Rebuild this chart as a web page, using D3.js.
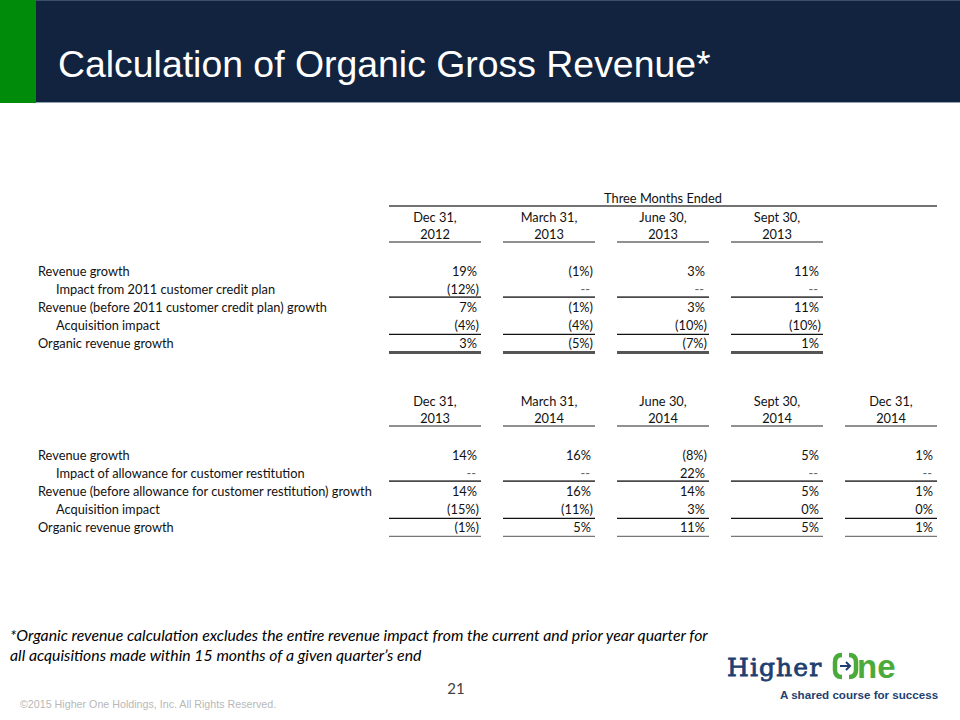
<!DOCTYPE html>
<html><head><meta charset="utf-8">
<script src="https://cdn.jsdelivr.net/npm/d3@7/dist/d3.min.js"></script>
<style>
html,body{margin:0;padding:0;background:#fff;}
svg{display:block;}
</style></head>
<body>
<svg id="c" width="960" height="720"></svg>
<script>
// ---- data ----
const title = "Calculation of Organic Gross Revenue*";
const groupHeader = "Three Months Ended";

const periods1 = [["Dec 31,","2012"],["March 31,","2013"],["June 30,","2013"],["Sept 30,","2013"]];
const rowLabels1 = ["Revenue growth","Impact from 2011 customer credit plan","Revenue (before 2011 customer credit plan) growth","Acquisition impact","Organic revenue growth"];
const rowIndent1 = [false,true,false,true,false];
const revenueGrowth1 = [19,-1,3,11];
const creditPlanImpact1 = [-12,null,null,null];
const revenueBefore1 = [7,-1,3,11];
const acquisitionImpact1 = [-4,-4,-10,-10];
const organicGrowth1 = [3,-5,-7,1];

const periods2 = [["Dec 31,","2013"],["March 31,","2014"],["June 30,","2014"],["Sept 30,","2014"],["Dec 31,","2014"]];
const rowLabels2 = ["Revenue growth","Impact of allowance for customer restitution","Revenue (before allowance for customer restitution) growth","Acquisition impact","Organic revenue growth"];
const rowIndent2 = [false,true,false,true,false];
const revenueGrowth2 = [14,16,-8,5,1];
const restitutionImpact2 = [null,null,22,null,null];
const revenueBefore2 = [14,16,14,5,1];
const acquisitionImpact2 = [-15,-11,3,0,0];
const organicGrowth2 = [-1,5,11,5,1];

const footnote = ["*Organic revenue calculation excludes the entire revenue impact from the current and prior year quarter for",
                  "all acquisitions made within 15 months of a given quarter\u2019s end"];
const pageNumber = "21";
const copyright = "\u00a92015 Higher One Holdings, Inc. All Rights Reserved.";

// ---- drawing ----
const svg = d3.select("#c");
const FONT = "Lato, 'Open Sans', sans-serif";

// header band
svg.append("rect").attr("x",0).attr("y",0).attr("width",960).attr("height",103).attr("fill","#12233f");
svg.append("line").attr("x1",0).attr("x2",960).attr("y1",0.5).attr("y2",0.5).attr("stroke","#3c5068").attr("stroke-width",1);
svg.append("line").attr("x1",0).attr("x2",960).attr("y1",102.5).attr("y2",102.5).attr("stroke","#8fa1b3").attr("stroke-width",1);
svg.append("rect").attr("x",0).attr("y",0).attr("width",36).attr("height",103).attr("fill","#008c0a");
svg.append("text").attr("x",58).attr("y",76.5).attr("fill","#fff")
  .attr("font-family","Arial, 'Liberation Sans', sans-serif").attr("font-size",37.4).text(title);

const colIdx = d3.range(5);
const x = d3.scaleBand().domain(colIdx).range([389,937]).paddingInner(0.193).paddingOuter(0);

function fmt(v){
  if (v === null) return "--";
  return v < 0 ? "(" + Math.abs(v) + "%)" : v + "%";
}

function drawTable(g, periods, labels, indent, rows, y0, lastThick){
  const y = d3.scaleLinear().domain([0,1]).range([y0, y0+18.1]);
  // column headers
  periods.forEach((p,i)=>{
    const cx = x(i) + x.bandwidth()/2;
    g.append("text").attr("x",cx).attr("y",y0-53.5).attr("text-anchor","middle").text(p[0]);
    g.append("text").attr("x",cx).attr("y",y0-36.5).attr("text-anchor","middle").text(p[1]);
    g.append("line").attr("x1",x(i)).attr("x2",x(i)+x.bandwidth()).attr("y1",y0-33.5).attr("y2",y0-33.5)
      .attr("stroke","#222").attr("stroke-width",1);
  });
  // row labels
  labels.forEach((l,r)=>{
    g.append("text").attr("x", indent[r] ? 56 : 38).attr("y", y(r)).text(l);
  });
  // values
  rows.forEach((vals,r)=>{
    vals.forEach((v,i)=>{
      const right = x(i) + x.bandwidth();
      const off = v === null ? 5 : (v < 0 ? 2 : 4);
      g.append("text").attr("x", right - off).attr("y", y(r)).attr("text-anchor","end")
        .attr("fill", v===null ? "#666" : "#111").text(fmt(v));
    });
  });
  // underlines
  periods.forEach((p,i)=>{
    const x1 = x(i), x2 = x(i)+x.bandwidth();
    g.append("line").attr("x1",x1).attr("x2",x2).attr("y1",y(1)+3.5).attr("y2",y(1)+3.5).attr("stroke","#4a4a4a").attr("stroke-width",1.8);
    g.append("line").attr("x1",x1).attr("x2",x2).attr("y1",y(3)+4.5).attr("y2",y(3)+4.5).attr("stroke","#111").attr("stroke-width",1.2);
    if (lastThick){
      g.append("line").attr("x1",x1).attr("x2",x2).attr("y1",y(4)+4.5).attr("y2",y(4)+4.5).attr("stroke","#555").attr("stroke-width",3);
    } else {
      g.append("line").attr("x1",x1).attr("x2",x2).attr("y1",y(4)+4.5).attr("y2",y(4)+4.5).attr("stroke","#777").attr("stroke-width",1.3);
    }
  });
}

const t1 = svg.append("g").attr("font-family",FONT).attr("font-size",12.8).attr("fill","#111");
t1.append("text").attr("x",(x(0)+x(4)+x.bandwidth())/2).attr("y",203).attr("text-anchor","middle").text(groupHeader);
t1.append("line").attr("x1",389).attr("x2",937).attr("y1",206).attr("y2",206).attr("stroke","#444").attr("stroke-width",1.5);
drawTable(t1, periods1, rowLabels1, rowIndent1,
  [revenueGrowth1, creditPlanImpact1, revenueBefore1, acquisitionImpact1, organicGrowth1], 275.5, true);

const t2 = svg.append("g").attr("font-family",FONT).attr("font-size",12.8).attr("fill","#111");
drawTable(t2, periods2, rowLabels2, rowIndent2,
  [revenueGrowth2, restitutionImpact2, revenueBefore2, acquisitionImpact2, organicGrowth2], 459.5, false);

// footnote
const fn = svg.append("g").attr("font-family",FONT).attr("font-size",15.8).attr("font-style","italic").attr("fill","#000");
footnote.forEach((l,i)=> fn.append("text").attr("x",10).attr("y",641+i*19.5).text(l));

svg.append("text").attr("x",456).attr("y",694).attr("text-anchor","middle").attr("font-family",FONT)
  .attr("font-size",15).attr("fill","#404040").text(pageNumber);
svg.append("text").attr("x",20).attr("y",708).attr("font-family","Arial, 'Liberation Sans', sans-serif")
  .attr("font-size",10.7).attr("fill","#b8b8b8").text(copyright);

// logo
const navy = "#1e3f70";
const logo = svg.append("g");
logo.append("text").attr("x",727).attr("y",676).attr("font-family","'DejaVu Serif', serif").attr("font-size",25)
  .attr("letter-spacing",1.1).attr("fill",navy).attr("stroke",navy).attr("stroke-width",0.8).text("Higher");
const green = "#4bab3a";
logo.append("path").attr("d","M842,655 Q835,655 835,662 L835,670 Q835,677 842,677").attr("fill","none").attr("stroke",green).attr("stroke-width",4.5);
logo.append("path").attr("d","M849,655 Q856,655 856,662 L856,670 Q856,677 849,677").attr("fill","none").attr("stroke",green).attr("stroke-width",4.5);
logo.append("line").attr("x1",840).attr("x2",849).attr("y1",666).attr("y2",666).attr("stroke",navy).attr("stroke-width",2);
logo.append("path").attr("d","M846,662 L850,666 L846,670").attr("fill","none").attr("stroke",navy).attr("stroke-width",2);
logo.append("text").attr("x",857).attr("y",678).attr("font-family","'Liberation Sans', Arial, sans-serif").attr("font-weight","bold")
  .attr("font-size",33).attr("fill",green).text("ne");
logo.append("text").attr("x",780).attr("y",699).attr("font-family","'Liberation Sans', Arial, sans-serif").attr("font-weight","bold")
  .attr("font-size",11.6).attr("fill",navy).text("A shared course for success");
</script>
</body></html>
